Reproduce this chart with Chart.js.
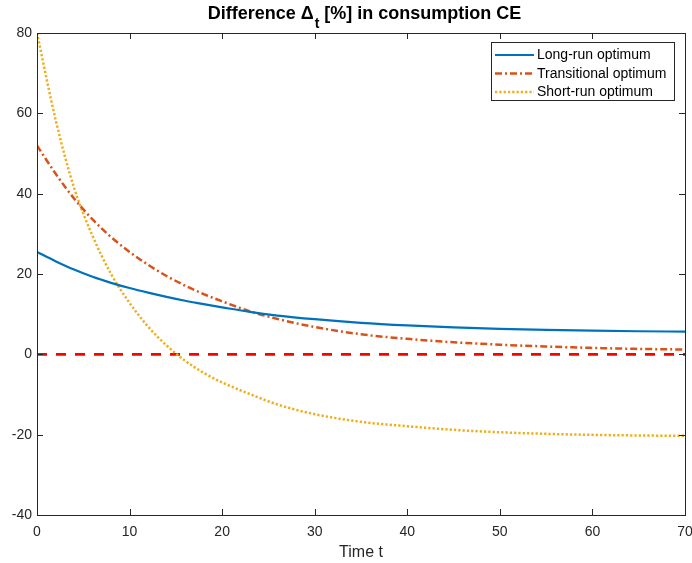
<!DOCTYPE html>
<html>
<head>
<meta charset="utf-8">
<script src="https://cdn.jsdelivr.net/npm/chart.js@4.4.0/dist/chart.umd.min.js"></script>
<style>
  html, body { margin: 0; padding: 0; background: #fff; }
  #wrap { width: 692px; height: 563px; position: relative; }
</style>
</head>
<body>
<div id="wrap"><canvas id="myChart" width="692" height="563"></canvas></div>
<script>
// time points
const times = [0, 2, 4, 6, 8, 10, 12, 14, 16, 18, 20, 23, 26, 30, 35, 40, 45, 50, 55, 60, 65, 70];

// Delta_t [%] per series
const longRun = [25.5, 23.2, 21.1, 19.3, 17.8, 16.5, 15.35, 14.3, 13.35, 12.5, 11.7, 10.55, 9.65, 8.75, 7.85, 7.2, 6.7, 6.35, 6.1, 5.9, 5.75, 5.65];
const transitional = [52, 45.0, 38.8, 33.6, 29.2, 25.5, 22.3, 19.5, 17.1, 15.0, 13.2, 10.7, 8.8, 6.8, 5.0, 3.85, 3.0, 2.4, 1.95, 1.6, 1.35, 1.2];
const shortRun = [80, 58.5, 41.5, 29.5, 20.0, 12.8, 6.9, 2.2, -1.6, -4.6, -7.0, -9.9, -12.5, -14.9, -16.8, -17.9, -18.8, -19.4, -19.8, -20.05, -20.2, -20.3];
const zeroLine = [0, 0];
const zeroTimes = [0, 70];

const xTicks = [0, 10, 20, 30, 40, 50, 60, 70];
const yTicks = [-40, -20, 0, 20, 40, 60, 80];

const seriesNames = ['Long-run optimum', 'Transitional optimum', 'Short-run optimum'];

const FONT = "'Liberation Sans', Arial, Helvetica, sans-serif";
const AXIS_COLOR = '#262626';

function toPoints(xs, ys) {
    return xs.map((x, i) => ({ x: x, y: ys[i] }));
}

// frame, inward ticks, title and legend (MATLAB look)
const matlabPlugin = {
    id: 'matlabLook',
    afterDraw(chart) {
        const ctx = chart.ctx;
        const area = chart.chartArea;
        const xs = chart.scales.x;
        const ys = chart.scales.y;
        ctx.save();

        // box
        ctx.strokeStyle = AXIS_COLOR;
        ctx.lineWidth = 1;
        ctx.strokeRect(Math.round(area.left) + 0.5, Math.round(area.top) + 0.5,
            Math.round(area.right - area.left), Math.round(area.bottom - area.top));

        // inward ticks
        const tl = 6;
        ctx.beginPath();
        xTicks.forEach(v => {
            const px = Math.round(xs.getPixelForValue(v)) + 0.5;
            ctx.moveTo(px, area.bottom); ctx.lineTo(px, area.bottom - tl);
            ctx.moveTo(px, area.top); ctx.lineTo(px, area.top + tl);
        });
        yTicks.forEach(v => {
            const py = Math.round(ys.getPixelForValue(v)) + 0.5;
            ctx.moveTo(area.left, py); ctx.lineTo(area.left + tl, py);
            ctx.moveTo(area.right, py); ctx.lineTo(area.right - tl, py);
        });
        ctx.stroke();

        // title with subscript
        const cx = 364;
        const ty = 19;
        const part1 = 'Difference \u0394';
        const sub = 't';
        const part2 = ' [%] in consumption CE';
        ctx.fillStyle = '#000';
        ctx.textBaseline = 'alphabetic';
        ctx.textAlign = 'left';
        ctx.font = 'bold 18px ' + FONT;
        const w1 = ctx.measureText(part1).width;
        const w3 = ctx.measureText(part2).width;
        ctx.font = 'bold 14px ' + FONT;
        const w2 = ctx.measureText(sub).width;
        const x0 = cx - (w1 + w2 + w3) / 2;
        ctx.font = 'bold 18px ' + FONT;
        ctx.fillText(part1, x0, ty);
        ctx.font = 'bold 14px ' + FONT;
        ctx.fillText(sub, x0 + w1 + 1, ty + 9);
        ctx.font = 'bold 18px ' + FONT;
        ctx.fillText(part2, x0 + w1 + w2 + 1, ty);

        // legend
        const lx = 491, ly = 42, lw = 183, lh = 58;
        ctx.fillStyle = '#fff';
        ctx.fillRect(lx, ly, lw, lh);
        ctx.strokeStyle = AXIS_COLOR;
        ctx.lineWidth = 1;
        ctx.strokeRect(lx + 0.5, ly + 0.5, lw, lh);
        ctx.font = '14px ' + FONT;
        ctx.textBaseline = 'middle';
        for (let i = 0; i < 3; i++) {
            const ds = chart.data.datasets[i];
            const yy = 55 + i * 18.5;
            ctx.beginPath();
            ctx.strokeStyle = ds.borderColor;
            ctx.lineWidth = ds.borderWidth;
            ctx.setLineDash(ds.borderDash || []);
            ctx.moveTo(495, yy);
            ctx.lineTo(534, yy);
            ctx.stroke();
            ctx.setLineDash([]);
            ctx.fillStyle = '#000';
            ctx.fillText(seriesNames[i], 537, yy + 0.5);
        }
        ctx.restore();
    }
};

const ctx = document.getElementById('myChart').getContext('2d');
const myChart = new Chart(ctx, {
    type: 'line',
    data: {
        datasets: [
            {
                label: seriesNames[0],
                data: toPoints(times, longRun),
                borderColor: '#0072BD',
                borderWidth: 2.2,
                borderDash: [],
                cubicInterpolationMode: 'monotone',
                pointRadius: 0,
                fill: false
            },
            {
                label: seriesNames[1],
                data: toPoints(times, transitional),
                borderColor: '#D95319',
                borderWidth: 2.5,
                borderDash: [7, 3, 2, 3],
                cubicInterpolationMode: 'monotone',
                pointRadius: 0,
                fill: false
            },
            {
                label: seriesNames[2],
                data: toPoints(times, shortRun),
                borderColor: '#EDB120',
                borderWidth: 2.5,
                borderDash: [2.3, 2],
                cubicInterpolationMode: 'monotone',
                pointRadius: 0,
                fill: false
            },
            {
                label: 'zero',
                data: toPoints(zeroTimes, zeroLine),
                borderColor: '#FF0000',
                borderWidth: 2.6,
                borderDash: [10, 9],
                pointRadius: 0,
                fill: false
            }
        ]
    },
    options: {
        responsive: false,
        animation: false,
        layout: { padding: { top: 33, right: 7, left: 0, bottom: 0 } },
        plugins: {
            legend: { display: false },
            title: { display: false },
            tooltip: { enabled: false }
        },
        scales: {
            x: {
                type: 'linear',
                min: 0,
                max: 70,
                grid: { display: false, drawTicks: false },
                border: { display: false },
                afterBuildTicks: (scale) => { scale.ticks = xTicks.map(v => ({ value: v })); },
                ticks: { color: AXIS_COLOR, font: { family: FONT, size: 14 }, padding: 9, maxRotation: 0, autoSkip: false },
                title: { display: true, text: 'Time t', color: AXIS_COLOR, font: { family: FONT, size: 16 }, padding: { top: 0, bottom: 1 } },
                afterFit: (scale) => { scale.height = 48; scale.paddingLeft = 0; scale.paddingRight = 0; }
            },
            y: {
                type: 'linear',
                min: -40,
                max: 80,
                grid: { display: false, drawTicks: false },
                border: { display: false },
                afterBuildTicks: (scale) => { scale.ticks = yTicks.map(v => ({ value: v })); },
                ticks: { color: AXIS_COLOR, font: { family: FONT, size: 14 }, padding: 5, autoSkip: false },
                afterFit: (scale) => { scale.width = 37; scale.paddingTop = 0; scale.paddingBottom = 0; }
            }
        }
    },
    plugins: [matlabPlugin]
});
</script>
</body>
</html>
